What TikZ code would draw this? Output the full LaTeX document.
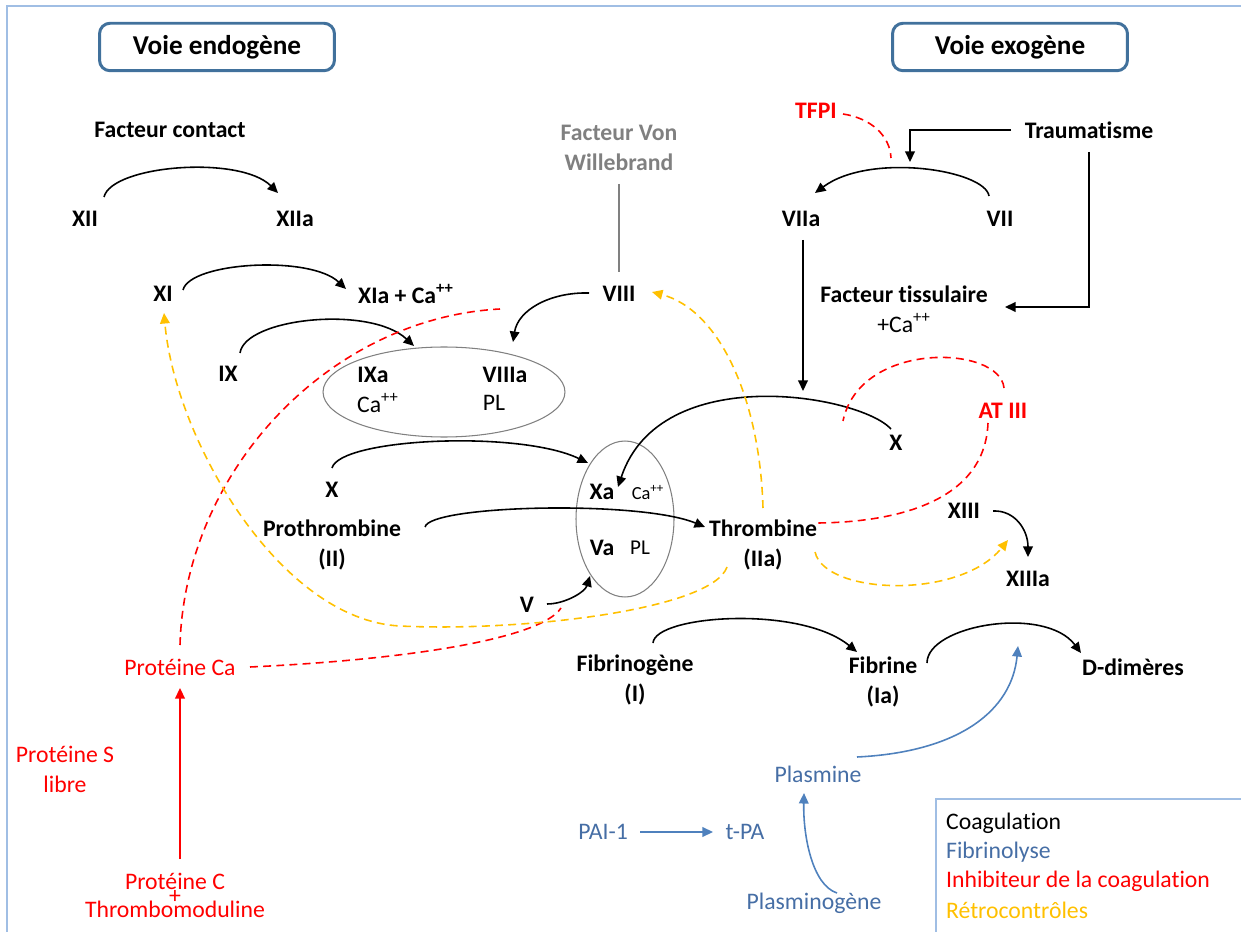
\documentclass[tikz,border=0pt]{standalone}
\usepackage{fontspec}
\setmainfont{Carlito}[Ligatures=NoCommon]
\usetikzlibrary{arrows.meta, calc, shapes.geometric}

\definecolor{boxblue}{RGB}{65,113,156}
\definecolor{frameblue}{RGB}{160,190,228}
\definecolor{fibblue}{RGB}{70,110,165}
\definecolor{fibarrow}{RGB}{79,129,189}
\definecolor{retro}{RGB}{255,192,0}
\definecolor{vwfgray}{RGB}{128,128,128}

\tikzset{
  fac/.style={font=\fontsize{13.5}{17}\selectfont\bfseries, inner sep=1pt, align=center},
  regtxt/.style={font=\fontsize{13.5}{17}\selectfont, inner sep=1pt, align=center},
  smalltxt/.style={font=\fontsize{10.5}{13}\selectfont, inner sep=1pt},
  voie/.style={draw=boxblue, line width=1.7pt, rounded corners=6pt, minimum width=4.7cm, minimum height=0.95cm, font=\fontsize{15.5}{18}\selectfont\bfseries},
  cplx/.style={draw=vwfgray, line width=0.6pt, ellipse, inner sep=0pt},
  conv/.style={line width=0.9pt, -{Triangle[length=6pt,width=5.5pt]}},
  inhib/.style={red, line width=0.9pt, dash pattern=on 4.5pt off 3pt},
  inhibarrow/.style={red, line width=1pt, -{Triangle[length=6pt,width=5.5pt]}},
  retroc/.style={retro, line width=0.9pt, dash pattern=on 4.5pt off 3pt, -{Triangle[length=6pt,width=5.5pt]}},
  fibr/.style={fibarrow, line width=0.9pt, -{Triangle[length=6pt,width=5.5pt]}},
}

\begin{document}
\begin{tikzpicture}[x=0.02cm, y=-0.02cm]
    \useasboundingbox (0,0) rectangle (1241,932);

    % frame and legend box
    \draw[frameblue, line width=0.9pt] (7,932) -- (7,6) -- (1241,6);
    \draw[frameblue, line width=0.8pt] (936,932) -- (936,799) -- (1241,799);

    % titles
    \node[voie] (endo) at (217,47) {Voie endogène};
    \node[voie] (exo) at (1010,47) {Voie exogène};

    % voie endogene
    \node[fac] (contact) at (170,130) {Facteur contact};
    \node[fac] (xii) at (85,219) {XII};
    \node[fac] (xiia) at (295,219) {XIIa};
    \node[fac] (xi) at (163,294) {XI};
    \node[fac] (xia) at (406,294) {XIa + Ca\textsuperscript{++}};
    \node[fac] (ix) at (228,374) {IX};
    \node[cplx, minimum width=4.84cm, minimum height=1.8cm] (tenase) at (444,392) {};
    \node[fac] (ixa) at (373,375) {IXa};
    \node[regtxt] (ca1) at (378,403) {Ca\textsuperscript{++}};
    \node[fac] (viiia) at (505,375) {VIIIa};
    \node[regtxt] (pl1) at (494,403) {PL};
    \node[fac, text=vwfgray] (vwf) at (619,148) {Facteur Von\\Willebrand};
    \node[fac] (viii) at (619,294) {VIII};

    % voie commune
    \node[fac] (xl) at (332,490) {X};
    \node[fac] (proth) at (332,545) {Prothrombine\\(II)};
    \node[cplx, minimum width=1.96cm, minimum height=3.12cm] (prothr) at (625,519) {};
    \node[fac] (xa) at (602,492) {Xa};
    \node[smalltxt] (ca2) at (648,493) {Ca\textsuperscript{++}};
    \node[fac] (va) at (602,548) {Va};
    \node[regtxt, font=\fontsize{12}{14}\selectfont] (pl2) at (640,548) {PL};
    \node[fac] (v) at (527,605) {V};
    \node[fac] (thromb) at (763,545) {Thrombine\\(IIa)};

    % voie exogene
    \node[fac, text=red] (tfpi) at (816,111) {TFPI};
    \node[fac] (traum) at (1089,130) {Traumatisme};
    \node[fac] (viia) at (801,219) {VIIa};
    \node[fac] (vii) at (1000,219) {VII};
    \node[fac] (ft) at (904,294) {Facteur tissulaire};
    \node[regtxt] (ca3) at (904,323) {+Ca\textsuperscript{++}};
    \node[fac] (xr) at (896,443) {X};
    \node[fac, text=red] (at3) at (1003,411) {AT III};
    \node[fac] (xiii) at (964,511) {XIII};
    \node[fac] (xiiia) at (1028,579) {XIIIa};

    % fibrine
    \node[fac] (fgen) at (635,680) {Fibrinogène\\(I)};
    \node[fac] (fib) at (883,682) {Fibrine\\(Ia)};
    \node[fac] (ddim) at (1133,667) {D-dimères};
    \node[regtxt, text=fibblue] (plasmine) at (818,774) {Plasmine};
    \node[regtxt, text=fibblue] (pai) at (603,832) {PAI-1};
    \node[regtxt, text=fibblue] (tpa) at (745,832) {t-PA};
    \node[regtxt, text=fibblue] (plgen) at (814,903) {Plasminogène};

    % proteine C
    \node[regtxt, text=red] (protca) at (180,667) {Protéine Ca};
    \node[regtxt, text=red] (prots) at (65,769) {Protéine S\\libre};
    \node[regtxt, text=red] (protc) at (175,895) {Protéine C\\[-9pt]+\\[-9pt]Thrombomoduline};

    % legende
    \node[regtxt, anchor=west] (lcoag) at (944,823) {Coagulation};
    \node[regtxt, anchor=west, text=fibblue] (lfib) at (944,852) {Fibrinolyse};
    \node[regtxt, anchor=west, text=red] (linh) at (944,881) {Inhibiteur de la coagulation};
    \node[regtxt, anchor=west, text=retro] (lretro) at (944,910) {Rétrocontrôles};

    % free ends on the arcs
    \coordinate (viiarc) at (910,162);
    \coordinate (xarc) at (803,391);
    \coordinate (tfpiend) at (891,158);
    \coordinate (fibarc) at (1018,646);
    \coordinate (viiiinh) at (500,309);
    \coordinate (vinh) at (561,608);
    \coordinate (xinh) at (843,421);

    % activations, voie endogene
    \draw[conv] ($(xii)+(19,-22)$) .. controls (112,165) and (240,155) .. ($(xiia)+(-17,-26)$);
    \draw[conv] ($(xi)+(20,-4)$) .. controls (190,262) and (310,255) .. ($(xia)+(-60,-5)$);
    \draw[conv] ($(ix)+(12,-21)$) .. controls (245,318) and (370,305) .. ($(tenase)+(-30,-46)$);
    \draw[vwfgray, line width=0.8pt] ($(vwf)+(0,36)$) -- ($(viii)+(0,-22)$);
    \draw[conv] ($(viii)+(-30,-1)$) .. controls (550,292) and (518,310) .. ($(tenase)+(69,-50)$);

    % activations, voie exogene
    \draw[conv] ($(traum)+(-78,0)$) -| (viiarc);
    \draw[conv] ($(vii)+(-11,-23)$) .. controls (985,170) and (870,152) .. ($(viia)+(14,-26)$);
    \draw[inhib] ($(tfpi)+(27,3)$) .. controls (870,118) and (890,135) .. (tfpiend);
    \draw[conv] ($(traum)+(0,22)$) |- ($(ft)+(101,13)$);
    \draw[conv] ($(viia)+(2,21)$) -- (xarc);

    % voie commune
    \draw[conv] ($(xr)+(-5,-14)$) .. controls (860,395) and (660,360) .. ($(xa)+(16,-5)$);
    \draw[conv] ($(xl)+(0,-22)$) .. controls (340,438) and (520,430) .. ($(prothr)+(-37,-56)$);
    \draw[conv] ($(proth)+(93,-18)$) .. controls (430,505) and (640,500) .. ($(thromb)+(-58,-18)$);
    \draw[conv] ($(v)+(20,-1)$) .. controls (565,604) and (585,592) .. ($(prothr)+(-35,57)$);
    \draw[conv] ($(xiii)+(29,0)$) .. controls (1015,510) and (1028,530) .. ($(xiiia)+(0,-22)$);
    \draw[conv] ($(fgen)+(18,-37)$) .. controls (655,615) and (800,605) .. ($(fib)+(-26,-30)$);
    \draw[conv] ($(fib)+(44,-19)$) .. controls (927,625) and (1045,605) .. ($(ddim)+(-52,-14)$);

    % inhibiteurs
    \draw[inhib] ($(at3)+(1,-23)$) .. controls (1000,345) and (860,340) .. (xinh);
    \draw[inhib] ($(at3)+(-15,12)$) .. controls (985,500) and (900,522) .. ($(thromb)+(55,-22)$);
    \draw[inhibarrow] ($(protc)+(5,-36)$) -- ($(protca)+(0,21)$);
    \draw[inhib] ($(protca)+(0,-22)$) .. controls (185,470) and (330,318) .. (viiiinh);
    \draw[inhib] ($(protca)+(70,0)$) .. controls (400,660) and (540,640) .. (vinh);

    % retrocontroles
    \draw[retroc] ($(thromb)+(0,-37)$) .. controls (760,400) and (720,310) .. ($(viii)+(33,-2)$);
    \draw[retroc] ($(thromb)+(-36,22)$) .. controls (712,610) and (520,632) .. (400,626)
        .. controls (280,620) and (175,440) .. ($(xi)+(1,19)$);
    \draw[retroc] ($(thromb)+(52,7)$) .. controls (825,595) and (960,600) .. ($(xiiia)+(-20,-39)$);

    % fibrinolyse
    \draw[fibr] ($(plasmine)+(39,-17)$) .. controls (960,752) and (1012,710) .. (fibarc);
    \draw[fibr, shorten <=6pt, shorten >=6pt] (pai) -- (tpa);
    \draw[fibr] ($(plgen)+(23,-10)$) .. controls (812,885) and (803,835) .. ($(plasmine)+(-14,19)$);
\end{tikzpicture}
\end{document}
